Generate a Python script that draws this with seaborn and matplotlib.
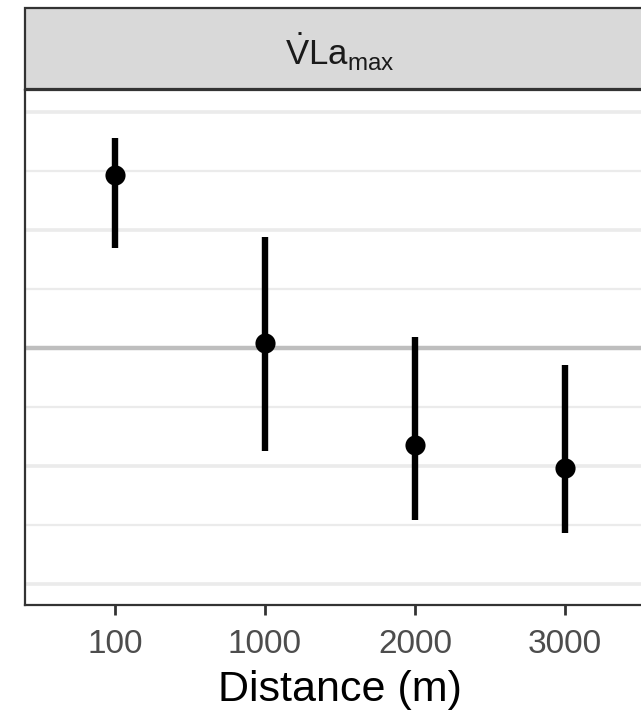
import matplotlib
matplotlib.use("Agg")
import matplotlib.pyplot as plt
import seaborn as sns
import pandas as pd
from matplotlib.patches import Rectangle

# data (arbitrary y units, 0 = reference line)
distance = ["100", "1000", "2000", "3000"]
estimate = [1.466, 0.042, -0.822, -1.017]
lower = [0.847, -0.873, -1.458, -1.568]
upper = [1.780, 0.940, 0.093, -0.144]
major_breaks = [-2, -1, 0, 1, 2]
minor_breaks = [-1.5, -0.5, 0.5, 1.5]

sns.set_theme(style="white")
plt.rcParams['font.family'] = ['Liberation Sans', 'DejaVu Sans']
plt.rcParams['mathtext.fontset'] = 'custom'
plt.rcParams['mathtext.rm'] = 'Liberation Sans'
plt.rcParams['mathtext.it'] = 'Liberation Sans:italic'

df = pd.DataFrame({"distance": distance, "estimate": estimate,
                   "lower": lower, "upper": upper})

W, H = 641, 711
fig = plt.figure(figsize=(W / 100, H / 100), dpi=100)
left, right, top, bottom = 25, 655, 90, 605
ax = fig.add_axes([left / W, 1 - bottom / H, (right - left) / W, (bottom - top) / H])

for y in minor_breaks:
    ax.axhline(y, color="#EBEBEB", lw=1.6, zorder=0)
for y in major_breaks:
    if y != 0:
        ax.axhline(y, color="#EBEBEB", lw=2.6, zorder=0)
ax.axhline(0, color="#BEBEBE", lw=3.2, zorder=1)

ax.vlines(df["distance"], df["lower"], df["upper"], color="black", lw=4.6, zorder=3)
sns.scatterplot(data=df, x="distance", y="estimate", ax=ax, color="black",
                s=210, edgecolor="black", linewidth=0, zorder=4, legend=False)

ax.set_xlim(-0.6, 3.6)
ax.set_ylim(-2.178, 2.186)
ax.set_yticks([])
ax.set_ylabel("")
ax.set_xlabel("Distance (m)", fontsize=31, color="black", labelpad=7)
ax.tick_params(axis="x", labelsize=24, colors="#4D4D4D", length=7, width=2,
               color="#333333", bottom=True, pad=10.5)
for s in ax.spines.values():
    s.set_color("#333333")
    s.set_linewidth(1.6)

# facet strip
st_top, st_bot = 8, 89
strip = Rectangle((left / W, 1 - st_bot / H), (right - left) / W, (st_bot - st_top) / H,
                  transform=fig.transFigure, facecolor="#D9D9D9", edgecolor="#333333",
                  lw=1.6, clip_on=False)
fig.patches.append(strip)
fig.text((left + right) / 2 / W, 1 - ((st_top + st_bot) / 2 + 4) / H,
         r"$\dot{\mathrm{V}}\mathrm{La}_{\mathrm{max}}$", fontsize=25,
         ha="center", va="center", color="#1A1A1A")

fig.savefig("out.png", dpi=100)
